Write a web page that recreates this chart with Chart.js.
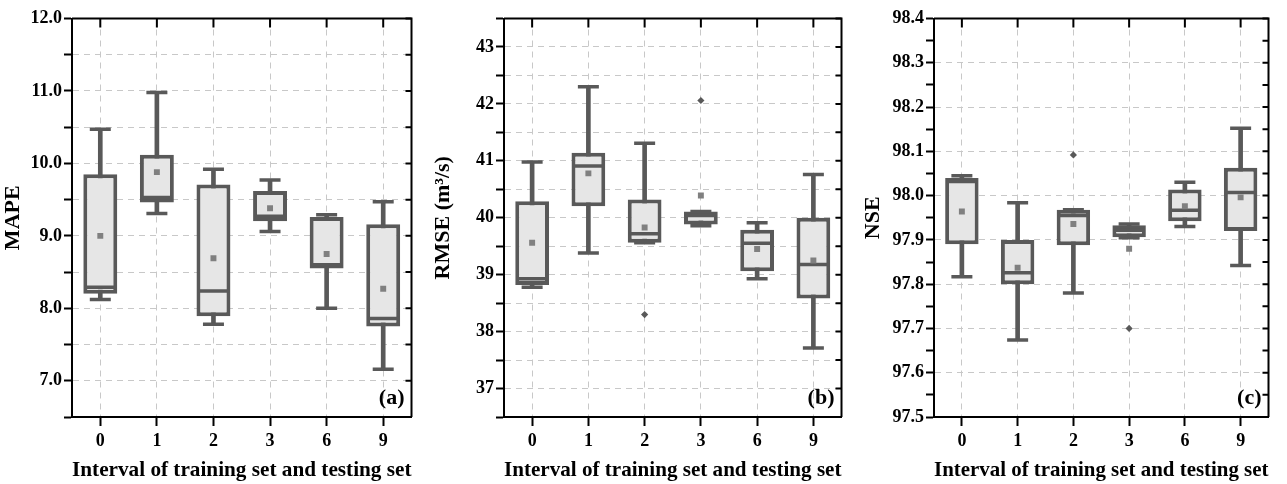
<!DOCTYPE html>
<html><head><meta charset="utf-8">
<script src="https://cdn.jsdelivr.net/npm/chart.js@4"></script>
<style>
body{margin:0;background:#fff;width:1287px;height:484px;overflow:hidden;position:relative}
canvas{position:absolute;top:0}
</style></head><body>
<canvas id="ca" width="430" height="484" style="left:0"></canvas>
<canvas id="cb" width="430" height="484" style="left:430px"></canvas>
<canvas id="cc" width="427" height="484" style="left:860px"></canvas>
<script>
const categories = ['0','1','2','3','6','9'];

// (a) MAPE
const mapeMin    = [8.12, 9.31, 7.78, 9.06, 8.00, 7.16];
const mapeQ1     = [8.20, 9.46, 7.89, 9.20, 8.55, 7.75];
const mapeMedian = [8.29, 9.53, 8.24, 9.27, 8.60, 7.86];
const mapeQ3     = [9.85, 10.12, 9.71, 9.62, 9.26, 9.16];
const mapeMax    = [10.47, 10.98, 9.92, 9.77, 9.29, 9.47];
const mapeMean   = [9.00, 9.88, 8.69, 9.38, 8.75, 8.27];
const mapeOut    = [null, null, null, null, null, null];

// (b) RMSE
const rmseMin    = [38.78, 39.38, 39.56, 39.86, 38.93, 37.71];
const rmseQ1     = [38.82, 40.20, 39.56, 39.88, 39.06, 38.58];
const rmseMedian = [38.93, 40.91, 39.72, 40.04, 39.55, 39.18];
const rmseQ3     = [40.29, 41.14, 40.32, 40.11, 39.79, 40.00];
const rmseMax    = [40.98, 42.30, 41.31, 40.11, 39.91, 40.76];
const rmseMean   = [39.56, 40.78, 39.83, 40.39, 39.45, 39.25];
const rmseOut    = [null, null, 38.30, 42.06, null, null];

// (c) NSE
const nseMin    = [97.817, 97.674, 97.780, 97.905, 97.930, 97.842];
const nseQ1     = [97.890, 97.800, 97.888, 97.906, 97.942, 97.920];
const nseMedian = [98.032, 97.826, 97.955, 97.922, 97.967, 98.007];
const nseQ3     = [98.040, 97.900, 97.968, 97.933, 98.014, 98.063];
const nseMax    = [98.045, 97.984, 97.968, 97.936, 98.030, 98.152];
const nseMean   = [97.964, 97.837, 97.936, 97.880, 97.976, 97.996];
const nseOut    = [null, null, 98.092, 97.700, null, null];

const FONT = '"Liberation Serif", "Times New Roman", serif';
const DARK = '#595959';

const framePlugin = {
  id: 'frame',
  afterDatasetsDraw(chart, args, opts) {
    const {ctx, chartArea: a, scales: {x, y}} = chart;
    ctx.save();
    ctx.strokeStyle = '#000';
    ctx.lineWidth = 2;
    ctx.beginPath();
    ctx.moveTo(a.left, a.top); ctx.lineTo(a.right, a.top); ctx.lineTo(a.right, a.bottom);
    ctx.stroke();
    ctx.beginPath();
    x.ticks.forEach((t, i) => { const px = x.getPixelForTick(i); ctx.moveTo(px, a.top); ctx.lineTo(px, a.top + 9); });
    y.ticks.forEach((t, i) => { const py = y.getPixelForTick(i); ctx.moveTo(a.right, py); ctx.lineTo(a.right - 6, py); });
    ctx.stroke();
    ctx.font = 'bold 22px ' + FONT;
    ctx.textAlign = 'right';
    ctx.textBaseline = 'alphabetic';
    ctx.fillStyle = '#000';
    ctx.fillText(opts.label, a.right - 7, a.bottom - 13);
    ctx.restore();
  }
};

function makeChart(id, o) {
  const pts = (data, style, r, extra) => Object.assign({
    type: 'line', data, showLine: false, pointStyle: style, pointRadius: r,
    pointHoverRadius: r, pointBorderColor: DARK, pointBackgroundColor: DARK, pointBorderWidth: 3.5
  }, extra || {});
  const isMajor = o.isMajor;
  new Chart(document.getElementById(id), {
    type: 'bar',
    data: {
      labels: categories,
      datasets: [
        { type: 'bar', data: o.min.map((v, i) => [v, o.max[i]]), backgroundColor: DARK,
          barThickness: 4, grouped: false, order: 10 },
        { type: 'bar', data: o.q1.map((v, i) => [v, o.q3[i]]), backgroundColor: '#e6e6e6',
          borderColor: DARK, borderWidth: 4, borderSkipped: false,
          barPercentage: 0.6, categoryPercentage: 1, grouped: false, order: 9 },
        pts(o.min, 'line', 10.5, {order: 8}),
        pts(o.max, 'line', 10.5, {order: 7}),
        pts(o.median, 'line', 15, {order: 6}),
        pts(o.mean, 'rect', 4.2, {pointBorderWidth: 0, pointBackgroundColor: '#808080', order: 5}),
        pts(o.out, 'rectRot', 3.6, {pointBorderWidth: 0, order: 4})
      ]
    },
    options: {
      responsive: false,
      devicePixelRatio: 1,
      animation: false,
      events: [],
      layout: { padding: { top: 14, right: o.padRight, left: 0, bottom: 0 } },
      plugins: { legend: { display: false }, tooltip: { enabled: false }, frame: { label: o.label } },
      scales: {
        x: {
          type: 'category', offset: true,
          afterFit: s => { s.height = 67; },
          grid: { offset: false, color: '#c8c8c8', lineWidth: 1, tickLength: 9,
                  tickColor: '#000', tickWidth: 2 },
          border: { display: true, color: '#000', width: 2, dash: [6, 5] },
          ticks: { color: '#000', font: { family: FONT, weight: 'bold', size: 18 }, padding: 5 },
          title: { display: true, text: 'Interval of training set and testing set', color: '#000',
                   font: { family: FONT, weight: 'bold', size: 22 }, padding: { top: 0, bottom: 0 } }
        },
        y: {
          min: o.ymin, max: o.ymax,
          afterFit: s => { s.width = o.yWidth; },
          grid: { color: c => isMajor(c.tick.value) || o.gridAll ? '#c8c8c8' : 'rgba(0,0,0,0)',
                  lineWidth: 1, tickLength: 8, tickColor: '#000', tickWidth: 2 },
          border: { display: true, color: '#000', width: 2, dash: [6, 5] },
          ticks: { stepSize: o.step, autoSkip: false, color: '#000', padding: 2,
                   font: { family: FONT, weight: 'bold', size: 18 },
                   callback: v => isMajor(v) ? v.toFixed(o.dec) : '' },
          title: { display: true, text: o.title, color: '#000',
                   font: { family: FONT, weight: 'bold', size: 22 }, padding: { top: 0, bottom: 2 } }
        }
      }
    },
    plugins: [framePlugin]
  });
}

const nearInt = (v, m) => Math.abs(v * m - Math.round(v * m)) < 1e-6;

makeChart('ca', { min: mapeMin, q1: mapeQ1, median: mapeMedian, q3: mapeQ3, max: mapeMax,
  mean: mapeMean, out: mapeOut, ymin: 6.5, ymax: 12, step: 0.5, dec: 1, gridAll: true,
  isMajor: v => nearInt(v, 1), title: 'MAPE', label: '(a)', yWidth: 72, padRight: 12 });
makeChart('cb', { min: rmseMin, q1: rmseQ1, median: rmseMedian, q3: rmseQ3, max: rmseMax,
  mean: rmseMean, out: rmseOut, ymin: 36.5, ymax: 43.5, step: 0.5, dec: 0, gridAll: true,
  isMajor: v => nearInt(v, 1), title: 'RMSE (m\u00B3/s)', label: '(b)', yWidth: 74, padRight: 12 });
makeChart('cc', { min: nseMin, q1: nseQ1, median: nseMedian, q3: nseQ3, max: nseMax,
  mean: nseMean, out: nseOut, ymin: 97.5, ymax: 98.4, step: 0.05, dec: 1, gridAll: false,
  isMajor: v => nearInt(v, 10), title: 'NSE', label: '(c)', yWidth: 74, padRight: 9 });
</script>
</body></html>
